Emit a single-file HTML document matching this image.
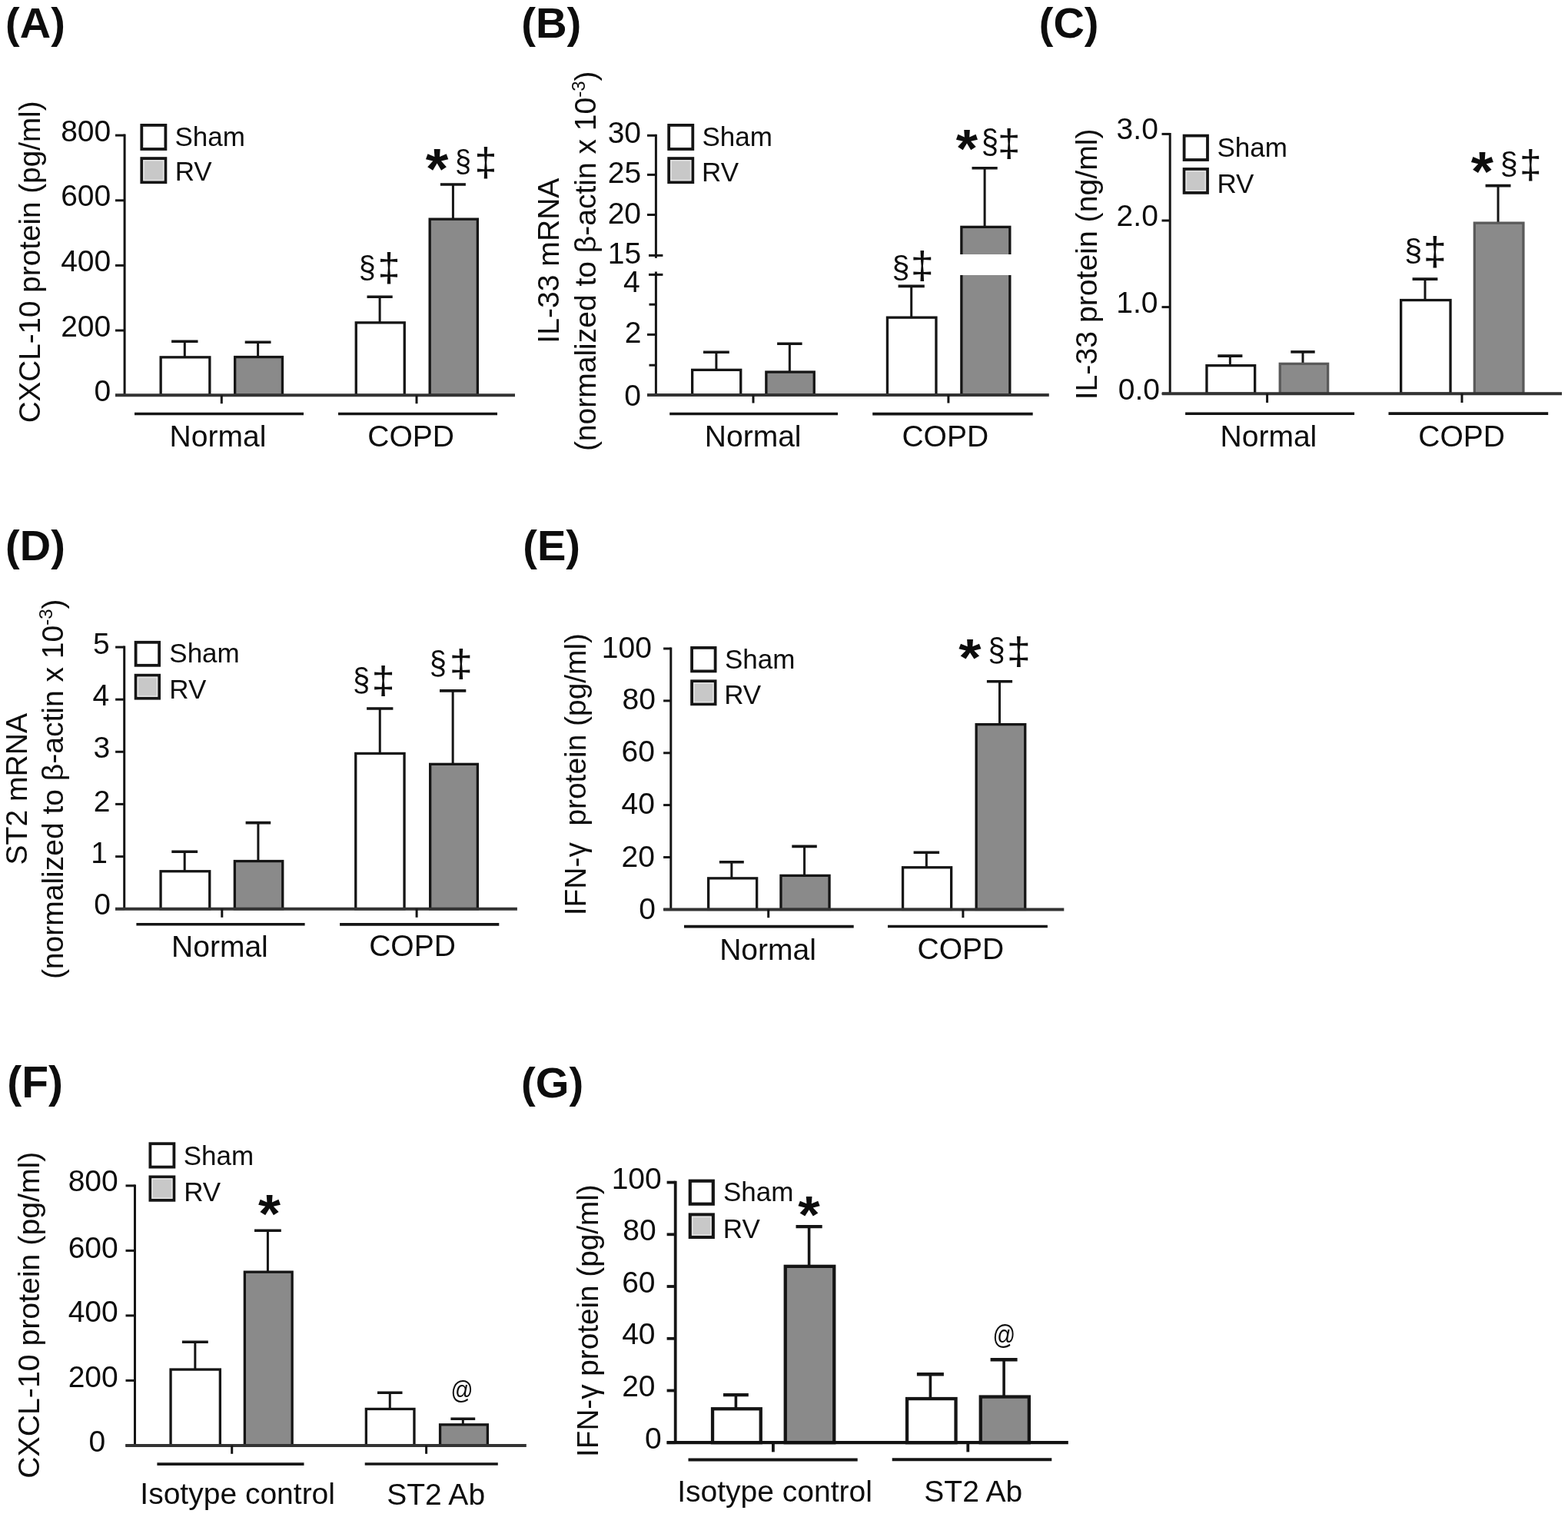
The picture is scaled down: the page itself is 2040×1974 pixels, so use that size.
<!DOCTYPE html>
<html><head><meta charset="utf-8"><title>Figure</title><style>
html,body{margin:0;padding:0;background:#fff;}
svg{display:block;}
text{font-family:"Liberation Sans", Arial, Helvetica, sans-serif;}
</style></head><body>
<svg xmlns="http://www.w3.org/2000/svg" width="2040" height="1974" viewBox="0 0 2040 1974">
<rect width="2040" height="1974" fill="#fff"/>
<line x1="162.10" y1="174.60" x2="162.10" y2="514.30" stroke="#151515" stroke-width="3.0"/>
<line x1="150.00" y1="176.10" x2="162.10" y2="176.10" stroke="#151515" stroke-width="3.0"/>
<line x1="150.00" y1="260.80" x2="162.10" y2="260.80" stroke="#151515" stroke-width="3.0"/>
<line x1="150.00" y1="345.40" x2="162.10" y2="345.40" stroke="#151515" stroke-width="3.0"/>
<line x1="150.00" y1="430.00" x2="162.10" y2="430.00" stroke="#151515" stroke-width="3.0"/>
<line x1="150.00" y1="514.30" x2="162.10" y2="514.30" stroke="#151515" stroke-width="3.0"/>
<line x1="240.30" y1="444.30" x2="240.30" y2="464.20" stroke="#151515" stroke-width="3.0"/>
<line x1="223.10" y1="444.30" x2="257.50" y2="444.30" stroke="#151515" stroke-width="3.6"/>
<rect x="209.15" y="464.85" width="63.70" height="49.45" fill="#fff" stroke="#151515" stroke-width="3.3"/>
<line x1="335.60" y1="445.30" x2="335.60" y2="463.90" stroke="#151515" stroke-width="3.0"/>
<line x1="318.70" y1="445.30" x2="352.50" y2="445.30" stroke="#151515" stroke-width="3.6"/>
<rect x="305.65" y="464.55" width="61.80" height="49.75" fill="#8a8a8a" stroke="#151515" stroke-width="3.3"/>
<line x1="494.10" y1="386.30" x2="494.10" y2="419.20" stroke="#151515" stroke-width="3.0"/>
<line x1="477.50" y1="386.30" x2="510.70" y2="386.30" stroke="#151515" stroke-width="3.6"/>
<rect x="463.25" y="419.85" width="63.00" height="94.45" fill="#fff" stroke="#151515" stroke-width="3.3"/>
<line x1="589.40" y1="240.00" x2="589.40" y2="284.50" stroke="#151515" stroke-width="3.0"/>
<line x1="572.90" y1="240.00" x2="605.90" y2="240.00" stroke="#151515" stroke-width="3.6"/>
<rect x="559.15" y="285.15" width="62.20" height="229.15" fill="#8a8a8a" stroke="#151515" stroke-width="3.3"/>
<line x1="150.00" y1="514.30" x2="670.00" y2="514.30" stroke="#333" stroke-width="4.0"/>
<line x1="288.30" y1="514.30" x2="288.30" y2="525.20" stroke="#151515" stroke-width="3.0"/>
<line x1="542.00" y1="514.30" x2="542.00" y2="525.20" stroke="#151515" stroke-width="3.0"/>
<line x1="175.00" y1="538.50" x2="395.00" y2="538.50" stroke="#151515" stroke-width="3.6"/>
<line x1="440.00" y1="538.50" x2="647.00" y2="538.50" stroke="#151515" stroke-width="3.6"/>
<rect x="184.30" y="162.90" width="31.10" height="31.10" fill="#fff" stroke="#151515" stroke-width="3.8"/>
<rect x="184.30" y="206.10" width="31.10" height="31.10" fill="#c8c8c8" stroke="#151515" stroke-width="3.8"/>
<rect x="187.00" y="208.80" width="25.70" height="25.70" fill="none" stroke="#e4e4e4" stroke-width="1.6"/>
<text x="79.17" y="183.87" font-size="39.00" fill="#0d0d0d">800</text>
<text x="79.17" y="267.92" font-size="39.00" fill="#0d0d0d">600</text>
<text x="79.17" y="353.32" font-size="39.00" fill="#0d0d0d">400</text>
<text x="79.17" y="437.87" font-size="39.00" fill="#0d0d0d">200</text>
<text x="122.54" y="521.67" font-size="39.00" fill="#0d0d0d">0</text>
<text x="220.61" y="581.24" font-size="39.00" fill="#0d0d0d">Normal</text>
<text x="478.26" y="580.72" font-size="39.00" fill="#0d0d0d">COPD</text>
<text x="227.49" y="189.61" font-size="35.00" fill="#0d0d0d">Sham</text>
<text x="227.63" y="235.49" font-size="35.00" fill="#0d0d0d">RV</text>
<text x="7.12" y="48.76" font-size="55.95" font-weight="bold" fill="#0d0d0d">(A)</text>
<text transform="translate(51.50,550.37) rotate(-90)" font-size="38.67" fill="#0d0d0d">CXCL-10 protein (pg/ml)</text>
<text transform="translate(553.77,245.46) scale(1.029,1)" font-size="73.92" font-weight="bold" fill="#0d0d0d">*</text>
<text transform="translate(591.99,224.11) scale(0.906,1)" font-size="41.53" fill="#0d0d0d">§</text>
<text transform="translate(617.57,228.96) scale(1.015,1)" font-size="51.26" fill="#0d0d0d">‡</text>
<text transform="translate(466.69,361.92) scale(0.952,1)" font-size="41.41" fill="#0d0d0d">§</text>
<text transform="translate(491.55,366.37) scale(1.022,1)" font-size="51.13" fill="#0d0d0d">‡</text>
<line x1="853.40" y1="174.80" x2="853.40" y2="335.80" stroke="#151515" stroke-width="3.0"/>
<line x1="853.40" y1="353.50" x2="853.40" y2="514.00" stroke="#151515" stroke-width="3.0"/>
<line x1="842.00" y1="176.30" x2="853.40" y2="176.30" stroke="#151515" stroke-width="3.0"/>
<line x1="842.00" y1="227.40" x2="853.40" y2="227.40" stroke="#151515" stroke-width="3.0"/>
<line x1="842.00" y1="279.50" x2="853.40" y2="279.50" stroke="#151515" stroke-width="3.0"/>
<line x1="842.00" y1="435.40" x2="853.40" y2="435.40" stroke="#151515" stroke-width="3.0"/>
<line x1="842.00" y1="514.00" x2="853.40" y2="514.00" stroke="#151515" stroke-width="3.0"/>
<line x1="844.50" y1="396.20" x2="853.40" y2="396.20" stroke="#151515" stroke-width="3.0"/>
<line x1="844.50" y1="475.20" x2="853.40" y2="475.20" stroke="#151515" stroke-width="3.0"/>
<line x1="931.90" y1="458.20" x2="931.90" y2="480.70" stroke="#151515" stroke-width="3.0"/>
<line x1="915.00" y1="458.20" x2="948.80" y2="458.20" stroke="#151515" stroke-width="3.6"/>
<rect x="900.65" y="481.35" width="63.10" height="32.65" fill="#fff" stroke="#151515" stroke-width="3.3"/>
<line x1="1027.35" y1="447.20" x2="1027.35" y2="483.40" stroke="#151515" stroke-width="3.0"/>
<line x1="1011.10" y1="447.20" x2="1043.60" y2="447.20" stroke="#151515" stroke-width="3.6"/>
<rect x="996.85" y="484.05" width="62.40" height="29.95" fill="#8a8a8a" stroke="#151515" stroke-width="3.3"/>
<line x1="1185.70" y1="372.40" x2="1185.70" y2="412.50" stroke="#151515" stroke-width="3.0"/>
<line x1="1168.60" y1="372.40" x2="1202.80" y2="372.40" stroke="#151515" stroke-width="3.6"/>
<rect x="1154.45" y="413.15" width="63.50" height="100.85" fill="#fff" stroke="#151515" stroke-width="3.3"/>
<line x1="1281.10" y1="218.70" x2="1281.10" y2="294.70" stroke="#151515" stroke-width="3.0"/>
<line x1="1264.50" y1="218.70" x2="1297.70" y2="218.70" stroke="#151515" stroke-width="3.6"/>
<rect x="1250.85" y="295.35" width="63.00" height="218.65" fill="#8a8a8a" stroke="#151515" stroke-width="3.3"/>
<line x1="842.00" y1="514.00" x2="1364.80" y2="514.00" stroke="#333" stroke-width="4.0"/>
<line x1="980.00" y1="514.00" x2="980.00" y2="524.50" stroke="#151515" stroke-width="3.0"/>
<line x1="1233.90" y1="514.00" x2="1233.90" y2="524.50" stroke="#151515" stroke-width="3.0"/>
<line x1="871.20" y1="538.50" x2="1090.00" y2="538.50" stroke="#151515" stroke-width="3.6"/>
<line x1="1135.20" y1="538.60" x2="1343.70" y2="538.60" stroke="#151515" stroke-width="3.6"/>
<rect x="870.20" y="162.90" width="31.10" height="31.10" fill="#fff" stroke="#151515" stroke-width="3.8"/>
<rect x="870.20" y="206.10" width="31.10" height="31.10" fill="#c8c8c8" stroke="#151515" stroke-width="3.8"/>
<rect x="872.90" y="208.80" width="25.70" height="25.70" fill="none" stroke="#e4e4e4" stroke-width="1.6"/>
<rect x="1246" y="331.0" width="73" height="27" fill="#fff"/>
<line x1="844.00" y1="332.40" x2="862.40" y2="332.40" stroke="#151515" stroke-width="3.0"/>
<line x1="844.00" y1="357.40" x2="862.40" y2="357.40" stroke="#151515" stroke-width="3.0"/>
<text x="790.65" y="186.22" font-size="39.00" fill="#0d0d0d">30</text>
<text x="790.77" y="238.37" font-size="39.00" fill="#0d0d0d">25</text>
<text x="790.65" y="290.82" font-size="39.00" fill="#0d0d0d">20</text>
<text x="790.77" y="342.52" font-size="39.00" fill="#0d0d0d">15</text>
<text x="811.05" y="379.72" font-size="39.00" fill="#0d0d0d">4</text>
<text x="812.77" y="446.46" font-size="39.00" fill="#0d0d0d">2</text>
<text x="812.34" y="527.77" font-size="39.00" fill="#0d0d0d">0</text>
<text x="916.81" y="581.19" font-size="39.00" fill="#0d0d0d">Normal</text>
<text x="1173.46" y="580.87" font-size="39.00" fill="#0d0d0d">COPD</text>
<text x="913.39" y="189.61" font-size="35.00" fill="#0d0d0d">Sham</text>
<text x="913.03" y="235.74" font-size="35.00" fill="#0d0d0d">RV</text>
<text x="678.15" y="48.70" font-size="56.27" font-weight="bold" fill="#0d0d0d">(B)</text>
<text transform="translate(727.30,446.70) rotate(-90)" font-size="39.11" fill="#0d0d0d">IL-33 mRNA</text>
<text transform="translate(775.20,587.12) rotate(-90)" font-size="39.00" fill="#0d0d0d">(normalized to β-actin x 10<tspan font-size="24" dy="-14">-3</tspan><tspan dy="14">)</tspan></text>
<text transform="translate(1243.68,217.90) scale(1.045,1)" font-size="69.62" font-weight="bold" fill="#0d0d0d">*</text>
<text transform="translate(1276.85,199.39) scale(0.908,1)" font-size="44.13" fill="#0d0d0d">§</text>
<text transform="translate(1298.00,202.65) scale(1.059,1)" font-size="50.00" fill="#0d0d0d">‡</text>
<text transform="translate(1160.39,361.81) scale(0.992,1)" font-size="41.53" fill="#0d0d0d">§</text>
<text transform="translate(1184.63,361.89) scale(1.097,1)" font-size="49.37" fill="#0d0d0d">‡</text>
<line x1="1522.20" y1="172.90" x2="1522.20" y2="512.20" stroke="#151515" stroke-width="3.0"/>
<line x1="1511.50" y1="174.40" x2="1522.20" y2="174.40" stroke="#151515" stroke-width="3.0"/>
<line x1="1511.50" y1="287.00" x2="1522.20" y2="287.00" stroke="#151515" stroke-width="3.0"/>
<line x1="1511.50" y1="399.60" x2="1522.20" y2="399.60" stroke="#151515" stroke-width="3.0"/>
<line x1="1511.50" y1="512.20" x2="1522.20" y2="512.20" stroke="#151515" stroke-width="3.0"/>
<line x1="1600.35" y1="463.10" x2="1600.35" y2="475.00" stroke="#151515" stroke-width="3.0"/>
<line x1="1584.30" y1="463.10" x2="1616.40" y2="463.10" stroke="#151515" stroke-width="3.6"/>
<rect x="1569.95" y="475.65" width="62.70" height="36.55" fill="#fff" stroke="#151515" stroke-width="3.3"/>
<line x1="1695.00" y1="457.90" x2="1695.00" y2="472.70" stroke="#151515" stroke-width="3.0"/>
<line x1="1679.30" y1="457.90" x2="1710.70" y2="457.90" stroke="#151515" stroke-width="3.6"/>
<rect x="1665.25" y="473.35" width="62.40" height="38.85" fill="#8a8a8a" stroke="#5a5a5a" stroke-width="3.3"/>
<line x1="1854.00" y1="363.10" x2="1854.00" y2="389.90" stroke="#151515" stroke-width="3.0"/>
<line x1="1837.60" y1="363.10" x2="1870.40" y2="363.10" stroke="#151515" stroke-width="3.6"/>
<rect x="1822.65" y="390.55" width="64.40" height="121.65" fill="#fff" stroke="#151515" stroke-width="3.3"/>
<line x1="1949.05" y1="241.60" x2="1949.05" y2="289.50" stroke="#151515" stroke-width="3.0"/>
<line x1="1932.60" y1="241.60" x2="1965.50" y2="241.60" stroke="#151515" stroke-width="3.6"/>
<rect x="1918.35" y="290.15" width="63.60" height="222.05" fill="#8a8a8a" stroke="#5a5a5a" stroke-width="3.3"/>
<line x1="1512.00" y1="512.20" x2="2032.00" y2="512.20" stroke="#333" stroke-width="4.0"/>
<line x1="1648.60" y1="512.20" x2="1648.60" y2="524.00" stroke="#151515" stroke-width="3.0"/>
<line x1="1902.00" y1="512.20" x2="1902.00" y2="524.00" stroke="#151515" stroke-width="3.0"/>
<line x1="1542.10" y1="538.30" x2="1762.10" y2="538.30" stroke="#151515" stroke-width="3.6"/>
<line x1="1806.50" y1="538.10" x2="2014.20" y2="538.10" stroke="#151515" stroke-width="3.6"/>
<rect x="1540.60" y="176.60" width="30.40" height="31.40" fill="#fff" stroke="#151515" stroke-width="3.8"/>
<rect x="1540.60" y="220.00" width="30.40" height="30.90" fill="#c8c8c8" stroke="#151515" stroke-width="3.8"/>
<rect x="1543.30" y="222.70" width="25.00" height="25.50" fill="none" stroke="#e4e4e4" stroke-width="1.6"/>
<text x="1452.61" y="181.42" font-size="39.00" fill="#0d0d0d">3.0</text>
<text x="1452.61" y="294.02" font-size="39.00" fill="#0d0d0d">2.0</text>
<text x="1452.21" y="407.27" font-size="39.00" fill="#0d0d0d">1.0</text>
<text x="1454.71" y="519.57" font-size="39.00" fill="#0d0d0d">0.0</text>
<text x="1587.56" y="581.44" font-size="39.00" fill="#0d0d0d">Normal</text>
<text x="1845.31" y="580.67" font-size="39.00" fill="#0d0d0d">COPD</text>
<text x="1583.39" y="203.76" font-size="35.00" fill="#0d0d0d">Sham</text>
<text x="1583.43" y="250.94" font-size="35.00" fill="#0d0d0d">RV</text>
<text x="1351.82" y="48.66" font-size="55.95" font-weight="bold" fill="#0d0d0d">(C)</text>
<text transform="translate(1427.30,520.31) rotate(-90)" font-size="39.20" fill="#0d0d0d">IL-33 protein (ng/ml)</text>
<text transform="translate(1913.87,248.11) scale(1.027,1)" font-size="73.12" font-weight="bold" fill="#0d0d0d">*</text>
<text transform="translate(1951.69,227.31) scale(0.992,1)" font-size="41.53" fill="#0d0d0d">§</text>
<text transform="translate(1977.00,231.92) scale(0.993,1)" font-size="51.89" fill="#0d0d0d">‡</text>
<text transform="translate(1827.29,340.01) scale(0.992,1)" font-size="41.53" fill="#0d0d0d">§</text>
<text transform="translate(1851.81,345.21) scale(1.045,1)" font-size="52.02" fill="#0d0d0d">‡</text>
<line x1="161.70" y1="840.60" x2="161.70" y2="1182.70" stroke="#151515" stroke-width="3.0"/>
<line x1="150.10" y1="842.10" x2="161.70" y2="842.10" stroke="#151515" stroke-width="3.0"/>
<line x1="150.10" y1="910.20" x2="161.70" y2="910.20" stroke="#151515" stroke-width="3.0"/>
<line x1="150.10" y1="978.30" x2="161.70" y2="978.30" stroke="#151515" stroke-width="3.0"/>
<line x1="150.10" y1="1046.40" x2="161.70" y2="1046.40" stroke="#151515" stroke-width="3.0"/>
<line x1="150.10" y1="1114.60" x2="161.70" y2="1114.60" stroke="#151515" stroke-width="3.0"/>
<line x1="150.10" y1="1182.70" x2="161.70" y2="1182.70" stroke="#151515" stroke-width="3.0"/>
<line x1="240.20" y1="1108.20" x2="240.20" y2="1133.10" stroke="#151515" stroke-width="3.0"/>
<line x1="223.30" y1="1108.20" x2="257.10" y2="1108.20" stroke="#151515" stroke-width="3.6"/>
<rect x="209.05" y="1133.75" width="63.70" height="48.95" fill="#fff" stroke="#151515" stroke-width="3.3"/>
<line x1="335.90" y1="1070.60" x2="335.90" y2="1119.90" stroke="#151515" stroke-width="3.0"/>
<line x1="319.60" y1="1070.60" x2="352.20" y2="1070.60" stroke="#151515" stroke-width="3.6"/>
<rect x="305.35" y="1120.55" width="62.40" height="62.15" fill="#8a8a8a" stroke="#151515" stroke-width="3.3"/>
<line x1="494.25" y1="922.00" x2="494.25" y2="979.80" stroke="#151515" stroke-width="3.0"/>
<line x1="477.10" y1="922.00" x2="511.40" y2="922.00" stroke="#151515" stroke-width="3.6"/>
<rect x="462.75" y="980.45" width="63.30" height="202.25" fill="#fff" stroke="#151515" stroke-width="3.3"/>
<line x1="589.15" y1="898.90" x2="589.15" y2="993.70" stroke="#151515" stroke-width="3.0"/>
<line x1="572.00" y1="898.90" x2="606.30" y2="898.90" stroke="#151515" stroke-width="3.6"/>
<rect x="559.65" y="994.35" width="61.70" height="188.35" fill="#8a8a8a" stroke="#151515" stroke-width="3.3"/>
<line x1="150.00" y1="1182.70" x2="672.90" y2="1182.70" stroke="#333" stroke-width="4.0"/>
<line x1="288.80" y1="1182.70" x2="288.80" y2="1193.80" stroke="#151515" stroke-width="3.0"/>
<line x1="542.10" y1="1182.70" x2="542.10" y2="1193.80" stroke="#151515" stroke-width="3.0"/>
<line x1="177.40" y1="1202.70" x2="396.60" y2="1202.70" stroke="#151515" stroke-width="3.6"/>
<line x1="442.10" y1="1202.90" x2="649.30" y2="1202.90" stroke="#151515" stroke-width="3.6"/>
<rect x="176.60" y="835.80" width="30.50" height="30.00" fill="#fff" stroke="#151515" stroke-width="3.8"/>
<rect x="176.60" y="878.70" width="30.50" height="30.00" fill="#c8c8c8" stroke="#151515" stroke-width="3.8"/>
<rect x="179.30" y="881.40" width="25.10" height="24.60" fill="none" stroke="#e4e4e4" stroke-width="1.6"/>
<text x="121.05" y="850.52" font-size="39.00" fill="#0d0d0d">5</text>
<text x="120.55" y="918.27" font-size="39.00" fill="#0d0d0d">4</text>
<text x="121.43" y="985.82" font-size="39.00" fill="#0d0d0d">3</text>
<text x="121.87" y="1055.56" font-size="39.00" fill="#0d0d0d">2</text>
<text x="118.23" y="1123.02" font-size="39.00" fill="#0d0d0d">1</text>
<text x="122.14" y="1190.32" font-size="39.00" fill="#0d0d0d">0</text>
<text x="223.06" y="1245.19" font-size="39.00" fill="#0d0d0d">Normal</text>
<text x="480.16" y="1244.47" font-size="39.00" fill="#0d0d0d">COPD</text>
<text x="220.29" y="862.21" font-size="35.00" fill="#0d0d0d">Sham</text>
<text x="220.33" y="909.44" font-size="35.00" fill="#0d0d0d">RV</text>
<text x="7.12" y="728.76" font-size="55.95" font-weight="bold" fill="#0d0d0d">(D)</text>
<text transform="translate(35.30,1125.50) rotate(-90)" font-size="39.10" fill="#0d0d0d">ST2 mRNA</text>
<text transform="translate(81.70,1274.12) rotate(-90)" font-size="39.00" fill="#0d0d0d">(normalized to β-actin x 10<tspan font-size="24" dy="-14">-3</tspan><tspan dy="14">)</tspan></text>
<text transform="translate(459.07,898.84) scale(0.940,1)" font-size="42.40" fill="#0d0d0d">§</text>
<text transform="translate(483.51,901.70) scale(1.104,1)" font-size="49.24" fill="#0d0d0d">‡</text>
<text transform="translate(558.77,876.94) scale(0.940,1)" font-size="42.40" fill="#0d0d0d">§</text>
<text transform="translate(584.71,879.70) scale(1.104,1)" font-size="49.24" fill="#0d0d0d">‡</text>
<line x1="872.80" y1="842.50" x2="872.80" y2="1183.40" stroke="#151515" stroke-width="3.0"/>
<line x1="863.10" y1="844.00" x2="872.80" y2="844.00" stroke="#151515" stroke-width="3.0"/>
<line x1="863.10" y1="911.90" x2="872.80" y2="911.90" stroke="#151515" stroke-width="3.0"/>
<line x1="863.10" y1="979.80" x2="872.80" y2="979.80" stroke="#151515" stroke-width="3.0"/>
<line x1="863.10" y1="1047.60" x2="872.80" y2="1047.60" stroke="#151515" stroke-width="3.0"/>
<line x1="863.10" y1="1115.50" x2="872.80" y2="1115.50" stroke="#151515" stroke-width="3.0"/>
<line x1="863.10" y1="1183.40" x2="872.80" y2="1183.40" stroke="#151515" stroke-width="3.0"/>
<line x1="951.85" y1="1121.80" x2="951.85" y2="1142.20" stroke="#151515" stroke-width="3.0"/>
<line x1="935.90" y1="1121.80" x2="967.80" y2="1121.80" stroke="#151515" stroke-width="3.6"/>
<rect x="921.65" y="1142.85" width="63.00" height="40.55" fill="#fff" stroke="#151515" stroke-width="3.3"/>
<line x1="1046.55" y1="1101.40" x2="1046.55" y2="1138.70" stroke="#151515" stroke-width="3.0"/>
<line x1="1030.30" y1="1101.40" x2="1062.80" y2="1101.40" stroke="#151515" stroke-width="3.6"/>
<rect x="1015.95" y="1139.35" width="63.10" height="44.05" fill="#8a8a8a" stroke="#151515" stroke-width="3.3"/>
<line x1="1205.35" y1="1109.30" x2="1205.35" y2="1128.10" stroke="#151515" stroke-width="3.0"/>
<line x1="1188.60" y1="1109.30" x2="1222.10" y2="1109.30" stroke="#151515" stroke-width="3.6"/>
<rect x="1174.55" y="1128.75" width="63.10" height="54.65" fill="#fff" stroke="#151515" stroke-width="3.3"/>
<line x1="1300.50" y1="886.80" x2="1300.50" y2="942.00" stroke="#151515" stroke-width="3.0"/>
<line x1="1283.90" y1="886.80" x2="1317.10" y2="886.80" stroke="#151515" stroke-width="3.6"/>
<rect x="1270.15" y="942.65" width="63.60" height="240.75" fill="#8a8a8a" stroke="#151515" stroke-width="3.3"/>
<line x1="863.20" y1="1183.40" x2="1384.30" y2="1183.40" stroke="#333" stroke-width="4.0"/>
<line x1="999.70" y1="1183.40" x2="999.70" y2="1194.20" stroke="#151515" stroke-width="3.0"/>
<line x1="1252.90" y1="1183.40" x2="1252.90" y2="1194.20" stroke="#151515" stroke-width="3.0"/>
<line x1="890.00" y1="1205.60" x2="1110.70" y2="1205.60" stroke="#151515" stroke-width="3.6"/>
<line x1="1155.00" y1="1205.50" x2="1362.90" y2="1205.50" stroke="#151515" stroke-width="3.6"/>
<rect x="900.10" y="842.90" width="30.50" height="30.50" fill="#fff" stroke="#151515" stroke-width="3.8"/>
<rect x="900.10" y="886.30" width="30.50" height="30.00" fill="#c8c8c8" stroke="#151515" stroke-width="3.8"/>
<rect x="902.80" y="889.00" width="25.10" height="24.60" fill="none" stroke="#e4e4e4" stroke-width="1.6"/>
<text x="782.77" y="855.97" font-size="39.00" fill="#0d0d0d">100</text>
<text x="809.45" y="923.07" font-size="39.00" fill="#0d0d0d">80</text>
<text x="808.45" y="990.67" font-size="39.00" fill="#0d0d0d">60</text>
<text x="808.45" y="1059.27" font-size="39.00" fill="#0d0d0d">40</text>
<text x="808.45" y="1127.87" font-size="39.00" fill="#0d0d0d">20</text>
<text x="831.14" y="1195.52" font-size="39.00" fill="#0d0d0d">0</text>
<text x="936.21" y="1248.89" font-size="39.00" fill="#0d0d0d">Normal</text>
<text x="1193.61" y="1248.07" font-size="39.00" fill="#0d0d0d">COPD</text>
<text x="942.89" y="869.56" font-size="35.00" fill="#0d0d0d">Sham</text>
<text x="942.13" y="915.54" font-size="35.00" fill="#0d0d0d">RV</text>
<text x="680.29" y="728.84" font-size="56.06" font-weight="bold" fill="#0d0d0d">(E)</text>
<text transform="translate(761.50,1191.18) rotate(-90)" font-size="38.89" fill="#0d0d0d">IFN-γ  protein (pg/ml)</text>
<text transform="translate(1247.17,878.63) scale(1.090,1)" font-size="69.09" font-weight="bold" fill="#0d0d0d">*</text>
<text transform="translate(1285.38,859.91) scale(0.927,1)" font-size="42.77" fill="#0d0d0d">§</text>
<text transform="translate(1309.79,863.81) scale(1.145,1)" font-size="49.12" fill="#0d0d0d">‡</text>
<line x1="175.50" y1="1541.40" x2="175.50" y2="1880.90" stroke="#151515" stroke-width="3.0"/>
<line x1="163.50" y1="1542.90" x2="175.50" y2="1542.90" stroke="#151515" stroke-width="3.0"/>
<line x1="163.50" y1="1627.40" x2="175.50" y2="1627.40" stroke="#151515" stroke-width="3.0"/>
<line x1="163.50" y1="1711.90" x2="175.50" y2="1711.90" stroke="#151515" stroke-width="3.0"/>
<line x1="163.50" y1="1796.40" x2="175.50" y2="1796.40" stroke="#151515" stroke-width="3.0"/>
<line x1="163.50" y1="1880.90" x2="175.50" y2="1880.90" stroke="#151515" stroke-width="3.0"/>
<line x1="253.85" y1="1746.20" x2="253.85" y2="1781.40" stroke="#151515" stroke-width="3.0"/>
<line x1="236.90" y1="1746.20" x2="270.80" y2="1746.20" stroke="#151515" stroke-width="3.6"/>
<rect x="222.05" y="1782.05" width="64.30" height="98.85" fill="#fff" stroke="#151515" stroke-width="3.3"/>
<line x1="348.40" y1="1601.30" x2="348.40" y2="1654.50" stroke="#151515" stroke-width="3.0"/>
<line x1="331.00" y1="1601.30" x2="365.80" y2="1601.30" stroke="#151515" stroke-width="3.6"/>
<rect x="318.35" y="1655.15" width="61.80" height="225.75" fill="#8a8a8a" stroke="#151515" stroke-width="3.3"/>
<line x1="507.25" y1="1812.30" x2="507.25" y2="1832.80" stroke="#151515" stroke-width="3.0"/>
<line x1="491.00" y1="1812.30" x2="523.50" y2="1812.30" stroke="#151515" stroke-width="3.6"/>
<rect x="476.35" y="1833.45" width="62.60" height="47.45" fill="#fff" stroke="#151515" stroke-width="3.3"/>
<line x1="602.30" y1="1846.30" x2="602.30" y2="1853.20" stroke="#151515" stroke-width="3.0"/>
<line x1="586.40" y1="1846.30" x2="618.20" y2="1846.30" stroke="#151515" stroke-width="3.6"/>
<rect x="572.55" y="1853.85" width="61.80" height="27.05" fill="#8a8a8a" stroke="#151515" stroke-width="3.3"/>
<line x1="163.30" y1="1880.90" x2="684.80" y2="1880.90" stroke="#333" stroke-width="4.0"/>
<line x1="301.70" y1="1880.90" x2="301.70" y2="1891.80" stroke="#151515" stroke-width="3.0"/>
<line x1="554.60" y1="1880.90" x2="554.60" y2="1891.80" stroke="#151515" stroke-width="3.0"/>
<line x1="204.40" y1="1905.10" x2="395.50" y2="1905.10" stroke="#151515" stroke-width="3.6"/>
<line x1="474.70" y1="1905.00" x2="647.80" y2="1905.00" stroke="#151515" stroke-width="3.6"/>
<rect x="195.40" y="1488.20" width="31.00" height="30.40" fill="#fff" stroke="#151515" stroke-width="3.8"/>
<rect x="195.40" y="1531.40" width="31.00" height="30.40" fill="#c8c8c8" stroke="#151515" stroke-width="3.8"/>
<rect x="198.10" y="1534.10" width="25.60" height="25.00" fill="none" stroke="#e4e4e4" stroke-width="1.6"/>
<text x="88.67" y="1550.22" font-size="39.00" fill="#0d0d0d">800</text>
<text x="88.67" y="1636.67" font-size="39.00" fill="#0d0d0d">600</text>
<text x="88.67" y="1719.97" font-size="39.00" fill="#0d0d0d">400</text>
<text x="88.67" y="1804.72" font-size="39.00" fill="#0d0d0d">200</text>
<text x="115.54" y="1889.07" font-size="39.00" fill="#0d0d0d">0</text>
<text x="182.35" y="1957.33" font-size="39.00" fill="#0d0d0d">Isotype control</text>
<text x="503.16" y="1957.79" font-size="39.00" fill="#0d0d0d">ST2 Ab</text>
<text x="238.69" y="1515.61" font-size="35.00" fill="#0d0d0d">Sham</text>
<text x="239.13" y="1562.54" font-size="35.00" fill="#0d0d0d">RV</text>
<text x="9.21" y="1428.46" font-size="56.91" font-weight="bold" fill="#0d0d0d">(F)</text>
<text transform="translate(51.00,1923.80) rotate(-90)" font-size="39.24" fill="#0d0d0d">CXCL-10 protein (pg/ml)</text>
<text transform="translate(336.08,1604.00) scale(1.071,1)" font-size="69.62" font-weight="bold" fill="#0d0d0d">*</text>
<text transform="translate(586.44,1819.60) scale(0.839,1)" font-size="34.07" fill="#0d0d0d">@</text>
<line x1="878.70" y1="1536.70" x2="878.70" y2="1877.20" stroke="#151515" stroke-width="3.8"/>
<line x1="867.60" y1="1538.60" x2="878.70" y2="1538.60" stroke="#151515" stroke-width="3.8"/>
<line x1="867.60" y1="1606.30" x2="878.70" y2="1606.30" stroke="#151515" stroke-width="3.8"/>
<line x1="867.60" y1="1674.00" x2="878.70" y2="1674.00" stroke="#151515" stroke-width="3.8"/>
<line x1="867.60" y1="1741.80" x2="878.70" y2="1741.80" stroke="#151515" stroke-width="3.8"/>
<line x1="867.60" y1="1809.50" x2="878.70" y2="1809.50" stroke="#151515" stroke-width="3.8"/>
<line x1="867.60" y1="1877.20" x2="878.70" y2="1877.20" stroke="#151515" stroke-width="3.8"/>
<line x1="957.40" y1="1815.10" x2="957.40" y2="1832.10" stroke="#151515" stroke-width="3.6"/>
<line x1="941.00" y1="1815.10" x2="973.80" y2="1815.10" stroke="#151515" stroke-width="4.4"/>
<rect x="927.05" y="1833.25" width="62.70" height="43.95" fill="#fff" stroke="#151515" stroke-width="4.3"/>
<line x1="1052.60" y1="1596.10" x2="1052.60" y2="1646.70" stroke="#151515" stroke-width="3.6"/>
<line x1="1035.50" y1="1596.10" x2="1069.70" y2="1596.10" stroke="#151515" stroke-width="4.4"/>
<rect x="1021.75" y="1647.85" width="63.50" height="229.35" fill="#8a8a8a" stroke="#151515" stroke-width="4.3"/>
<line x1="1210.40" y1="1788.30" x2="1210.40" y2="1818.90" stroke="#151515" stroke-width="3.6"/>
<line x1="1192.90" y1="1788.30" x2="1227.90" y2="1788.30" stroke="#151515" stroke-width="4.4"/>
<rect x="1180.05" y="1820.05" width="63.50" height="57.15" fill="#fff" stroke="#151515" stroke-width="4.3"/>
<line x1="1306.10" y1="1769.30" x2="1306.10" y2="1816.40" stroke="#151515" stroke-width="3.6"/>
<line x1="1288.60" y1="1769.30" x2="1323.60" y2="1769.30" stroke="#151515" stroke-width="4.4"/>
<rect x="1275.75" y="1817.55" width="63.10" height="59.65" fill="#8a8a8a" stroke="#151515" stroke-width="4.3"/>
<line x1="867.60" y1="1877.20" x2="1389.80" y2="1877.20" stroke="#111" stroke-width="4.2"/>
<line x1="1005.90" y1="1877.20" x2="1005.90" y2="1889.40" stroke="#151515" stroke-width="3.8"/>
<line x1="1259.30" y1="1877.20" x2="1259.30" y2="1889.40" stroke="#151515" stroke-width="3.8"/>
<line x1="895.50" y1="1899.40" x2="1115.70" y2="1899.40" stroke="#151515" stroke-width="4.0"/>
<line x1="1160.70" y1="1899.20" x2="1368.30" y2="1899.20" stroke="#151515" stroke-width="4.0"/>
<rect x="897.80" y="1536.70" width="30.00" height="30.00" fill="#fff" stroke="#151515" stroke-width="4.2"/>
<rect x="897.80" y="1580.50" width="30.00" height="29.40" fill="#c8c8c8" stroke="#151515" stroke-width="4.2"/>
<rect x="900.70" y="1583.40" width="24.20" height="23.60" fill="none" stroke="#e4e4e4" stroke-width="1.6"/>
<text x="795.67" y="1546.72" font-size="39.00" fill="#0d0d0d">100</text>
<text x="810.25" y="1613.97" font-size="39.00" fill="#0d0d0d">80</text>
<text x="809.15" y="1681.82" font-size="39.00" fill="#0d0d0d">60</text>
<text x="809.15" y="1749.37" font-size="39.00" fill="#0d0d0d">40</text>
<text x="809.15" y="1816.92" font-size="39.00" fill="#0d0d0d">20</text>
<text x="838.94" y="1885.22" font-size="39.00" fill="#0d0d0d">0</text>
<text x="881.20" y="1954.33" font-size="39.00" fill="#0d0d0d">Isotype control</text>
<text x="1202.36" y="1954.29" font-size="39.00" fill="#0d0d0d">ST2 Ab</text>
<text x="940.89" y="1563.41" font-size="35.00" fill="#0d0d0d">Sham</text>
<text x="940.83" y="1611.14" font-size="35.00" fill="#0d0d0d">RV</text>
<text x="678.10" y="1427.92" font-size="56.16" font-weight="bold" fill="#0d0d0d">(G)</text>
<text transform="translate(777.50,1895.96) rotate(-90)" font-size="38.68" fill="#0d0d0d">IFN-γ protein (pg/ml)</text>
<text transform="translate(1038.28,1603.68) scale(1.073,1)" font-size="68.28" font-weight="bold" fill="#0d0d0d">*</text>
<text transform="translate(1291.40,1749.43) scale(0.845,1)" font-size="34.53" fill="#0d0d0d">@</text>
</svg>
</body></html>
